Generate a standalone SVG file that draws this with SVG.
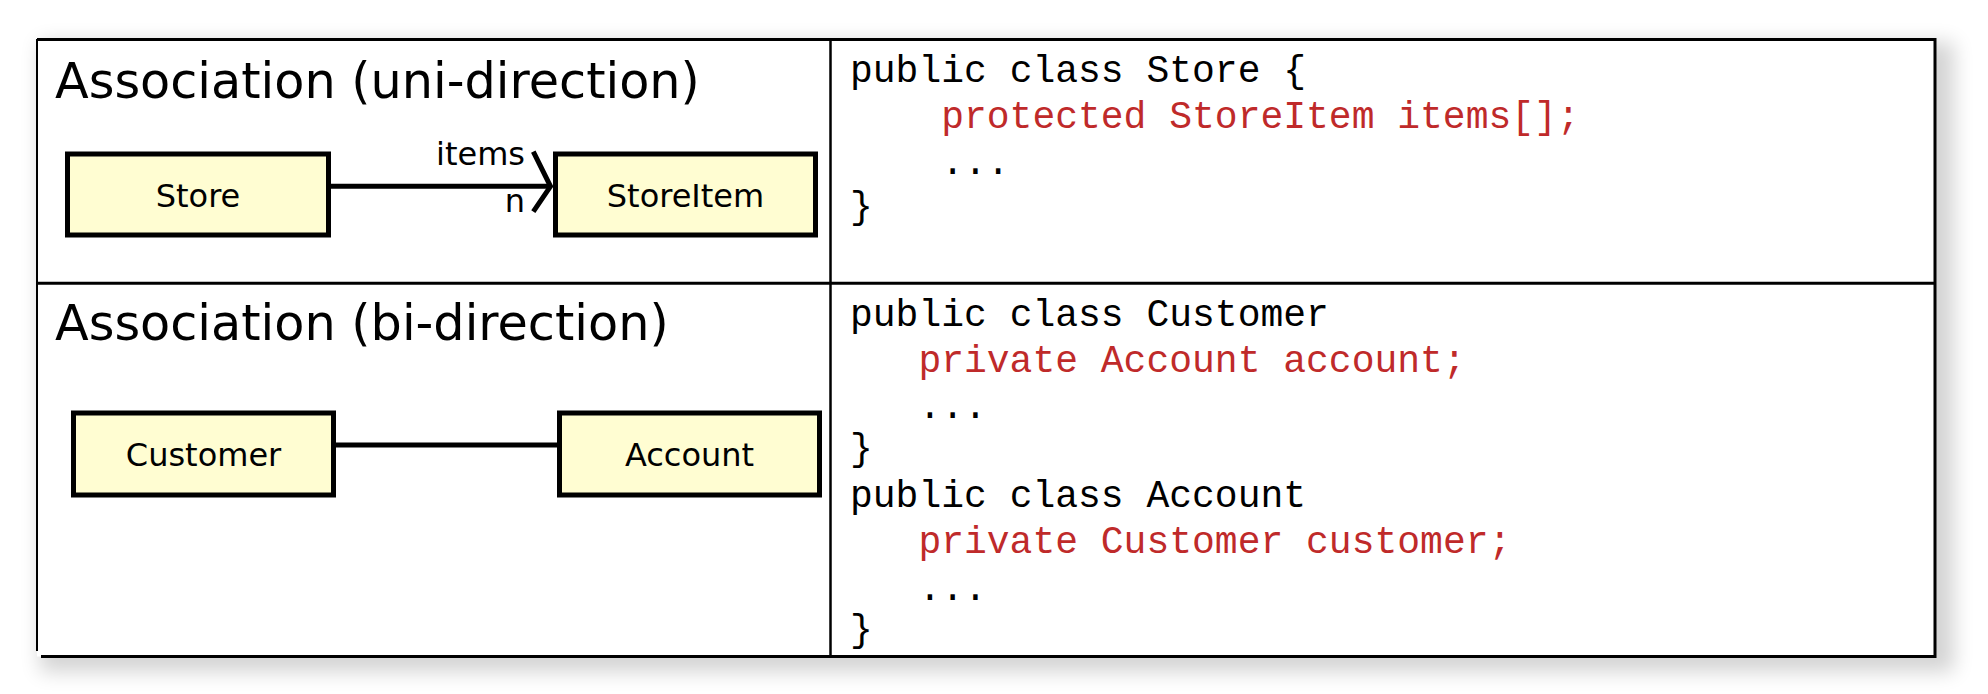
<svg xmlns="http://www.w3.org/2000/svg" width="1988" height="694" viewBox="0 0 1988 694">
<style>
.title{font-family:"DejaVu Sans","Verdana",sans-serif;font-size:49.3px;fill:#000}
.lbl{font-family:"DejaVu Sans","Verdana",sans-serif;font-size:32px;fill:#000}
.box{fill:#fffdd2;stroke:#000;stroke-width:5}
.code{font-family:"Liberation Mono","Courier New",monospace;font-size:38px;fill:#000}
.red{fill:#bf2a2a}
.conn{stroke:#000;stroke-width:5;fill:none}
.grid{stroke:#000;fill:none}
</style>
<defs>
<filter id="shadow" x="-5%" y="-20%" width="110%" height="140%">
<feGaussianBlur stdDeviation="10"/>
</filter>
</defs>
<rect width="1988" height="694" fill="#fff"/>
<rect x="40" y="42" width="1914" height="630" fill="#000" opacity="0.17" filter="url(#shadow)"/>
<rect x="37" y="39.5" width="1898" height="617" fill="#fff"/>
<g id="table">
<line class="grid" x1="37" y1="39.5" x2="1935" y2="39.5" stroke-width="3"/>
<line class="grid" x1="1935" y1="38" x2="1935" y2="658" stroke-width="3"/>
<line class="grid" x1="41" y1="656.5" x2="1935" y2="656.5" stroke-width="3"/>
<line class="grid" x1="37" y1="39" x2="37" y2="651" stroke-width="2"/>
<line class="grid" x1="37" y1="283.3" x2="1935" y2="283.3" stroke-width="3"/>
<line class="grid" x1="830.5" y1="39" x2="830.5" y2="656" stroke-width="2.5"/>
</g>
<g id="title-uni"><text class="title" x="55" y="98">Association (uni-direction)</text></g>
<g id="title-bi"><text class="title" x="55" y="340">Association (bi-direction)</text></g>
<g id="connectors">
<line class="conn" x1="331" y1="186.3" x2="549" y2="186.3"/>
<path class="conn" d="M533.3,151.7 L550.5,186.3 L533.3,211.7"/>
<text class="lbl" x="525" y="165" text-anchor="end">items</text>
<text class="lbl" x="525" y="211.7" text-anchor="end">n</text>
<line class="conn" x1="336" y1="445" x2="557" y2="445"/>
</g>
<g id="store"><rect class="box" x="67.5" y="154" width="261" height="81"/><text class="lbl" x="198" y="206.5" text-anchor="middle">Store</text></g>
<g id="storeitem"><rect class="box" x="555.5" y="154" width="260" height="81"/><text class="lbl" x="685.5" y="206.5" text-anchor="middle">StoreItem</text></g>
<g id="customer"><rect class="box" x="73.5" y="413" width="260" height="82"/><text class="lbl" x="203.5" y="465.5" text-anchor="middle">Customer</text></g>
<g id="account"><rect class="box" x="559.5" y="413" width="260" height="82"/><text class="lbl" x="689.5" y="465.5" text-anchor="middle">Account</text></g>
<g id="code-store">
<text class="code" x="850" y="82">public class Store {</text>
<text class="code red" x="941.2" y="128">protected StoreItem items[];</text>
<text class="code" x="941.2" y="174">...</text>
<text class="code" x="850" y="218">}</text>
</g>
<g id="code-customer">
<text class="code" x="850" y="326">public class Customer</text>
<text class="code red" x="918.4" y="372">private Account account;</text>
<text class="code" x="918.4" y="418">...</text>
<text class="code" x="850" y="460">}</text>
<text class="code" x="850" y="507">public class Account</text>
<text class="code red" x="918.4" y="553">private Customer customer;</text>
<text class="code" x="918.4" y="600">...</text>
<text class="code" x="850" y="641">}</text>
</g>
</svg>
